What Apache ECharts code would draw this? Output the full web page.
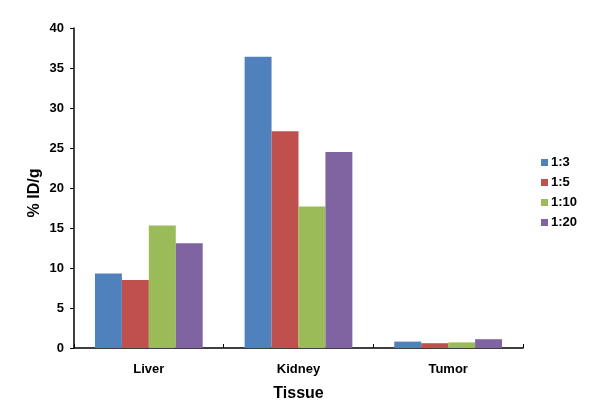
<!DOCTYPE html>
<html><head><meta charset="utf-8">
<script src="https://cdn.jsdelivr.net/npm/echarts@6/dist/echarts.min.js"></script>
<style>html,body{margin:0;padding:0;background:#fff}#c{width:592px;height:418px}</style>
</head><body><div id="c"></div>
<script>
const categories = ['Liver', 'Kidney', 'Tumor'];
const seriesNames = ['1:3', '1:5', '1:10', '1:20'];
const s13 = [9.3, 36.4, 0.8];
const s15 = [8.5, 27.1, 0.6];
const s110 = [15.3, 17.7, 0.7];
const s120 = [13.1, 24.5, 1.1];
const colors = ['#4F81BD', '#C0504D', '#9BBB59', '#8064A2'];
const allData = [s13, s15, s110, s120];
const font = 'Liberation Sans, Arial, sans-serif';
const chart = echarts.init(document.getElementById('c'));
chart.setOption({
  animation: false,
  grid: {left: 74, right: 69, top: 28, bottom: 70},
  legend: {
    orient: 'vertical', left: 536, top: 151, itemWidth: 7, itemHeight: 7, itemGap: 7,
    icon: 'rect',
    textStyle: {fontFamily: font, fontWeight: 'bold', fontSize: 13, color: '#000', padding: [0,0,0,-2]},
    data: seriesNames
  },
  xAxis: {
    type: 'category', data: categories,
    name: 'Tissue', nameLocation: 'middle', nameGap: 38,
    nameTextStyle: {fontFamily: font, fontWeight: 'bold', fontSize: 16, color: '#000'},
    axisLine: {lineStyle: {color: '#000', width: 1.5}},
    axisTick: {show: true, inside: true, length: 4, lineStyle: {color: '#000'}},
    axisLabel: {fontFamily: font, fontWeight: 'bold', fontSize: 13, color: '#000', margin: 15}
  },
  yAxis: {
    type: 'value', min: 0, max: 40, interval: 5,
    name: '% ID/g', nameLocation: 'middle', nameGap: 31, nameRotate: 90, nameMoveOverlap: false,
    nameTextStyle: {fontFamily: font, fontWeight: 'bold', fontSize: 16, color: '#000', padding: [0, 10, 0, 0]},
    axisLine: {show: true, lineStyle: {color: '#000', width: 1.5}},
    axisTick: {show: true, length: 4, lineStyle: {color: '#000'}},
    splitLine: {show: false},
    axisLabel: {fontFamily: font, fontWeight: 'bold', fontSize: 13, color: '#000', margin: 10}
  },
  series: seriesNames.map((n, i) => ({
    name: n, type: 'bar', data: allData[i], barGap: '0%', barCategoryGap: '28%',
    itemStyle: {color: colors[i]}
  }))
});
</script></body></html>
